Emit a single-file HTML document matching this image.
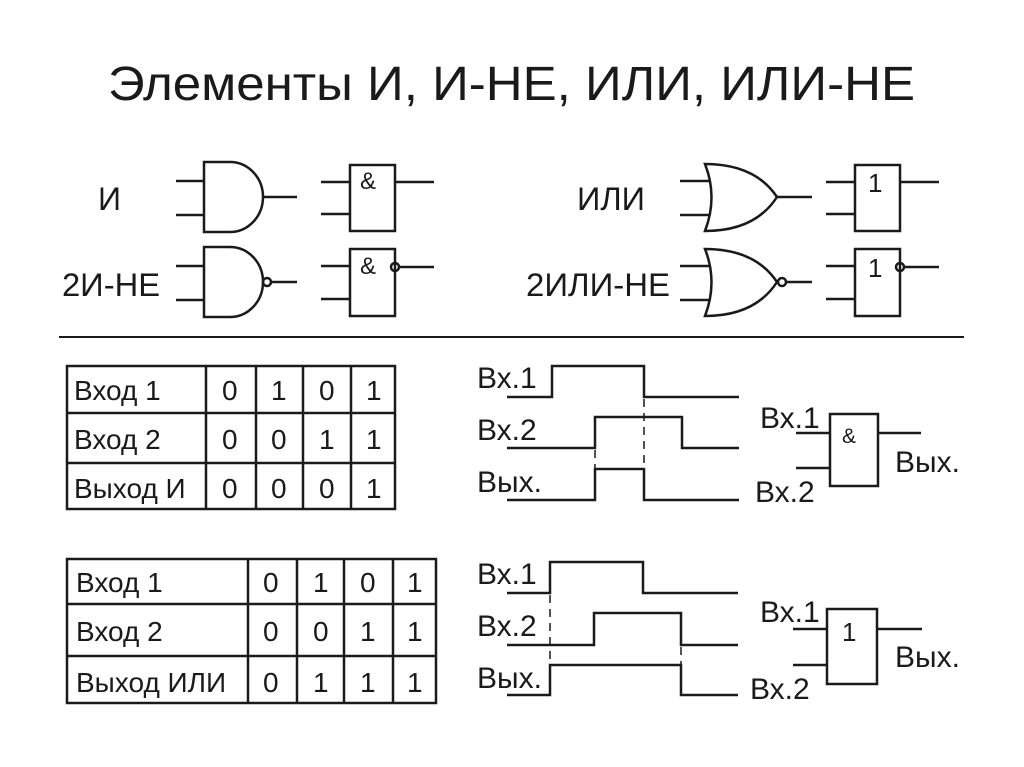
<!DOCTYPE html>
<html><head><meta charset="utf-8"><style>
html,body{margin:0;padding:0;background:#fff;}
svg{display:block;}
text{font-family:"Liberation Sans",sans-serif;fill:#1a1a1a;}
.s{font-size:30px;}
.t{font-size:28px;}
.w{font-size:32px;}
</style></head><body>
<svg width="1024" height="767" viewBox="0 0 1024 767" xmlns="http://www.w3.org/2000/svg">
<g stroke="#1a1a1a" stroke-width="2.5" fill="none">
<line x1="176" y1="181" x2="204" y2="181"/><line x1="176" y1="215" x2="204" y2="215"/>
<path d="M204 162 H230 A33 35 0 0 1 230 232 H204 Z"/>
<line x1="263" y1="197" x2="297" y2="197"/>
<rect x="350" y="165" width="45" height="66"/>
<line x1="321" y1="182" x2="350" y2="182"/><line x1="321" y1="214" x2="350" y2="214"/>
<line x1="395" y1="182" x2="434" y2="182"/>
<line x1="176" y1="266" x2="204" y2="266"/><line x1="176" y1="300" x2="204" y2="300"/>
<path d="M204 247 H230 A33 35 0 0 1 230 317 H204 Z"/>
<circle cx="267" cy="282" r="4"/>
<line x1="271" y1="282" x2="297" y2="282"/>
<rect x="350" y="249" width="45" height="67"/>
<line x1="321" y1="266" x2="350" y2="266"/><line x1="321" y1="299" x2="350" y2="299"/>
<circle cx="395" cy="267" r="4"/>
<line x1="399" y1="267" x2="434" y2="267"/>
<line x1="680" y1="181" x2="710" y2="181"/><line x1="680" y1="215" x2="710" y2="215"/>
<path d="M705 164 Q718 197 705 231 Q755 231 777 197 Q755 164 705 164 Z"/>
<line x1="777" y1="197" x2="812" y2="197"/>
<rect x="855" y="165" width="45" height="66"/>
<line x1="826" y1="182" x2="855" y2="182"/><line x1="826" y1="214" x2="855" y2="214"/>
<line x1="900" y1="182" x2="939" y2="182"/>
<line x1="680" y1="266" x2="710" y2="266"/><line x1="680" y1="300" x2="710" y2="300"/>
<path d="M705 249 Q718 282 705 316 Q755 316 777 282 Q755 249 705 249 Z"/>
<circle cx="782" cy="282" r="4"/>
<line x1="786" y1="282" x2="812" y2="282"/>
<rect x="855" y="249" width="45" height="67"/>
<line x1="826" y1="266" x2="855" y2="266"/><line x1="826" y1="299" x2="855" y2="299"/>
<circle cx="900" cy="267" r="4"/>
<line x1="904" y1="267" x2="939" y2="267"/>
<line x1="59" y1="337" x2="964" y2="337" stroke-width="2"/>
<rect x="67" y="366" width="328" height="143"/>
<line x1="67" y1="413" x2="395" y2="413"/><line x1="67" y1="463" x2="395" y2="463"/>
<line x1="206" y1="366" x2="206" y2="509"/><line x1="256" y1="366" x2="256" y2="509"/>
<line x1="303" y1="366" x2="303" y2="509"/><line x1="351" y1="366" x2="351" y2="509"/>
<rect x="67" y="559" width="369" height="144"/>
<line x1="67" y1="604" x2="436" y2="604"/><line x1="67" y1="656" x2="436" y2="656"/>
<line x1="248" y1="559" x2="248" y2="703"/><line x1="297" y1="559" x2="297" y2="703"/>
<line x1="344" y1="559" x2="344" y2="703"/><line x1="393" y1="559" x2="393" y2="703"/>
<polyline points="507,397 552,397 552,366 644,366 644,397 739,397"/>
<polyline points="507,448 595,448 595,417 682,417 682,448 739,448"/>
<polyline points="507,500 595,500 595,469 644,469 644,500 739,500"/>
<line x1="644" y1="399" x2="644" y2="469" stroke-width="1.5" stroke-dasharray="8,6"/>
<line x1="595" y1="450" x2="595" y2="469" stroke-width="1.5" stroke-dasharray="8,6"/>
<rect x="830" y="414" width="48" height="72"/>
<line x1="796" y1="433" x2="830" y2="433"/><line x1="796" y1="468" x2="830" y2="468"/>
<line x1="878" y1="433" x2="921" y2="433"/>
<polyline points="507,593 550,593 550,562 643,562 643,593 738,593"/>
<polyline points="507,645 594,645 594,613 681,613 681,645 738,645"/>
<polyline points="507,695 550,695 550,665 681,665 681,695 738,695"/>
<line x1="550" y1="595" x2="550" y2="665" stroke-width="1.5" stroke-dasharray="8,6"/>
<line x1="681" y1="647" x2="681" y2="665" stroke-width="1.5" stroke-dasharray="8,6"/>
<rect x="827" y="609" width="50" height="75"/>
<line x1="793" y1="629" x2="827" y2="629"/><line x1="793" y1="665" x2="827" y2="665"/>
<line x1="877" y1="629" x2="922" y2="629"/>
</g>
<text x="108" y="100" style="font-size:48px" textLength="807" lengthAdjust="spacingAndGlyphs">Элементы И, И-НЕ, ИЛИ, ИЛИ-НЕ</text>
<text x="98" y="210" class="w">И</text>
<text x="62" y="296" class="w" textLength="98" lengthAdjust="spacingAndGlyphs">2И-НЕ</text>
<text x="577" y="210" class="w" textLength="68" lengthAdjust="spacingAndGlyphs">ИЛИ</text>
<text x="526" y="296" class="w" textLength="144" lengthAdjust="spacingAndGlyphs">2ИЛИ-НЕ</text>
<text x="360" y="189" style="font-size:24px">&amp;</text><text x="360" y="274" style="font-size:24px">&amp;</text>
<text x="868" y="192" style="font-size:26px">1</text><text x="868" y="277" style="font-size:26px">1</text>
<text x="842" y="443" style="font-size:21px">&amp;</text>
<text x="842" y="641" style="font-size:26px">1</text>
<g class="t">
<text x="74" y="400">Вход 1</text><text x="74" y="449">Вход 2</text><text x="74" y="498">Выход И</text>
<text x="222" y="400">0</text><text x="271" y="400">1</text><text x="319" y="400">0</text><text x="366" y="400">1</text>
<text x="222" y="449">0</text><text x="271" y="449">0</text><text x="319" y="449">1</text><text x="366" y="449">1</text>
<text x="222" y="498">0</text><text x="271" y="498">0</text><text x="319" y="498">0</text><text x="366" y="498">1</text>
<text x="76" y="592">Вход 1</text><text x="76" y="641">Вход 2</text><text x="76" y="692">Выход ИЛИ</text>
<text x="263" y="592">0</text><text x="313" y="592">1</text><text x="360" y="592">0</text><text x="407" y="592">1</text>
<text x="263" y="641">0</text><text x="313" y="641">0</text><text x="360" y="641">1</text><text x="407" y="641">1</text>
<text x="263" y="692">0</text><text x="313" y="692">1</text><text x="360" y="692">1</text><text x="407" y="692">1</text>
</g>
<g class="s">
<text x="477" y="388">Вх.1</text><text x="477" y="440">Вх.2</text><text x="477" y="492">Вых.</text>
<text x="760" y="428">Вх.1</text><text x="755" y="502">Вх.2</text><text x="895" y="472">Вых.</text>
<text x="477" y="584">Вх.1</text><text x="477" y="636">Вх.2</text><text x="477" y="688">Вых.</text>
<text x="760" y="622">Вх.1</text><text x="750" y="699">Вх.2</text><text x="895" y="667">Вых.</text>
</g>
</svg>
</body></html>
